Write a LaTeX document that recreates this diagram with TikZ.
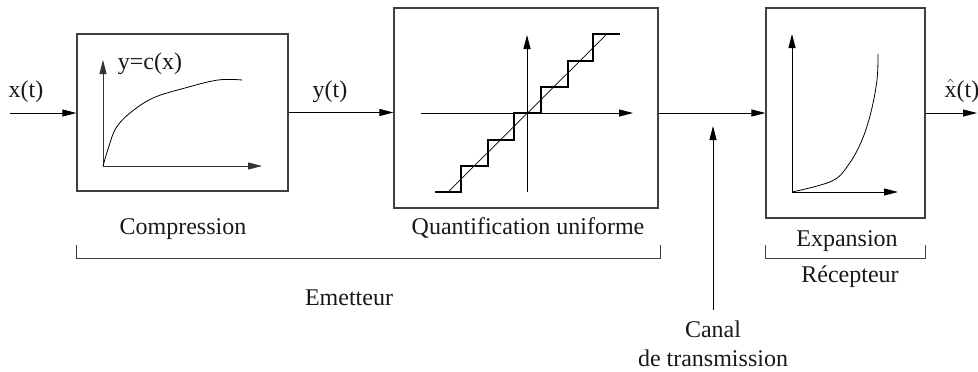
\documentclass[tikz,border=0pt]{standalone}
\usepackage{fontspec}
\setmainfont{Liberation Serif}
\usetikzlibrary{arrows.meta}
\begin{document}
\begin{tikzpicture}[x=1pt,y=-1pt,
  box/.style={draw=black!75,line width=1.1pt,minimum width=#1,inner sep=0pt},
  lab/.style={font=\fontsize{24}{28}\selectfont,inner sep=0pt,anchor=base,text=black!90},
  arr/.style={line width=0.9pt,-{Triangle[length=14pt,width=7pt]}},
  ln/.style={line width=0.9pt},
  brk/.style={line width=1pt,draw=black!75}]
\useasboundingbox (0,0) rectangle (978,372);
% boxes
\node[box=211pt,minimum height=157pt] (comp) at (182.5,112.5) {};
\node[box=264pt,minimum height=200pt] (quant) at (526,108) {};
\node[box=159pt,minimum height=210pt] (exp) at (845.5,113) {};
% signal path
\coordinate (in) at (10,113);
\coordinate (out) at (977,113);
\draw[arr] (in) -- (in -| comp.west);
\draw[arr] (comp.east) -- (comp.east -| quant.west);
\draw[arr] (quant.east |- exp.west) -- (exp.west);
\draw[arr] (exp.east) -- (out);
% channel
\coordinate (chb) at (713,310);
\coordinate (cht) at (713,126);
\draw[arr] (chb) -- (cht);
% labels
\node[lab] (xt) at (26,97) {x(t)};
\node[lab] (yt) at (330,97) {y(t)};
\node[lab] (xh) at (962,97) {$\hat{\hbox{x}}$(t)};
\node[lab] (cx) at (150,69) {y=c(x)};
\node[lab] (lcomp) at (183,234) {Compression};
\node[lab] (lquant) at (528,234) {Quantification uniforme};
\node[lab] (lemet) at (349,305) {Emetteur};
\node[lab] (lexp) at (847,246) {Expansion};
\node[lab] (lrec) at (850,282) {Récepteur};
\node[lab] (lcan) at (713,337) {Canal};
\node[lab] (ltr) at (713,366) {de transmission};
% brackets
\draw[brk] (76,245) -- (76,258) -- (660,258) -- (660,245);
\draw[brk] (exp.west |- 0,245) -- (exp.west |- 0,258) -- (exp.east |- 0,258) -- (exp.east |- 0,245);
% compression graph
\coordinate (co) at (103,166);
\draw[arr,draw=black!80] (co) -- (103,60);
\draw[arr,draw=black!80] (co) -- (262,166);
\draw[line width=0.8pt] plot[smooth,tension=0.6] coordinates {(103,166) (109,146) (116,128) (130,113) (153,98) (185,88) (218,80) (242,80)};
% quantifier graph
\draw[arr] (421,113) -- (633,113);
\draw[arr] (527,192) -- (527,35);
\draw[line width=1.1pt] (435,192) -- (461,192) -- (461,166) -- (488,166) -- (488,140) -- (514,140) -- (514,113) -- (541,113) -- (541,87) -- (568,87) -- (568,61) -- (593,61) -- (593,34) -- (620,34);
\draw[line width=0.7pt] (448,192) -- (607,34);
% expansion graph
\coordinate (eo) at (792,192);
\draw[arr] (eo) -- (792,34);
\draw[arr] (eo) -- (898,192);
\draw[line width=0.8pt] plot[smooth,tension=0.6] coordinates {(792,192) (832,181) (849,164) (862,140) (871,112) (877,80) (878,54)};
\end{tikzpicture}
\end{document}
